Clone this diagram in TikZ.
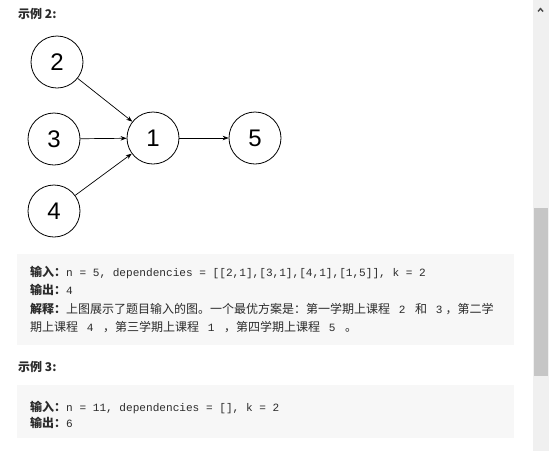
\documentclass[tikz,border=0pt]{standalone}
\usepackage{fontspec}
\setmainfont{Noto Sans CJK SC}
\setmonofont{Liberation Mono}
\newfontfamily\numfont{Liberation Sans}
\usetikzlibrary{arrows.meta}
\definecolor{txt}{HTML}{2B2B2B}
\definecolor{boxbg}{HTML}{F7F7F7}
\definecolor{sbbg}{HTML}{F0F0F0}
\definecolor{sbthumb}{HTML}{C6C6C6}
\tikzset{
  vert/.style={circle,draw=black,line width=0.8pt,minimum size=52pt,inner sep=0pt,font=\numfont\fontsize{24}{24}\selectfont},
  edge/.style={-{Stealth[length=6pt,width=4.5pt]},line width=0.7pt},
  line/.style={anchor=base west,inner sep=0pt,text=txt,font=\fontsize{12}{14}\selectfont},
  head/.style={anchor=base west,inner sep=0pt,text=txt,font=\bfseries\fontsize{12}{14}\selectfont},
  codebox/.style={fill=boxbg,draw=none},
}
\newcommand{\cd}[1]{{\ttfamily\fontsize{11.1}{12}\selectfont #1}}
\newcommand{\cdp}[1]{\hspace{2pt}\cd{#1}\hspace{3pt}}
\begin{document}
\begin{tikzpicture}[x=1pt,y=-1pt]
\useasboundingbox[fill=white] (0,0) rectangle (549,451);
% heading
\node[head] (h2) at (18,18) {示例 2:};
% graph
\node[vert] (n2) at (57,62) {2};
\node[vert] (n3) at (54,139) {3};
\node[vert] (n4) at (54,211) {4};
\node[vert] (n1) at (153,138) {1};
\node[vert] (n5) at (255,138) {5};
\draw[edge] (n2) -- (n1);
\draw[edge] (n3) -- (n1);
\draw[edge] (n4) -- (n1);
\draw[edge] (n1) -- (n5);
% box 1
\fill[codebox] (17,254) rectangle (514,345);
\node[line] (l1) at (30,276) {\textbf{输入：}\cd{n = 5, dependencies = [[2,1],[3,1],[4,1],[1,5]], k = 2}};
\node[line] (l2) at (30,294) {\textbf{输出：}\cd{4}};
\node[line] (l3) at (30,313) {\textbf{解释：}上图展示了题目输入的图。一个最优方案是：第一学期上课程\cdp{ 2 }和\cdp{ 3}，第二学};
\node[line] (l4) at (30,331) {期上课程\cdp{ 4 }，第三学期上课程\cdp{ 1 }，第四学期上课程\cdp{ 5 }。};
% example 3
\node[head] (h3) at (18,371) {示例 3:};
\fill[codebox] (17,385) rectangle (514,438);
\node[line] (m1) at (30,411) {\textbf{输入：}\cd{n = 11, dependencies = [], k = 2}};
\node[line] (m2) at (30,427) {\textbf{输出：}\cd{6}};
% scrollbar
\fill[sbbg] (533,0) rectangle (549,451);
\fill[sbthumb] (534,208) rectangle (548,376);
\fill[black!70] (537.5,11) -- (540.5,7.5) -- (543.5,11) -- (542.5,12) -- (540.5,9.7) -- (538.5,12) -- cycle;
\end{tikzpicture}
\end{document}
